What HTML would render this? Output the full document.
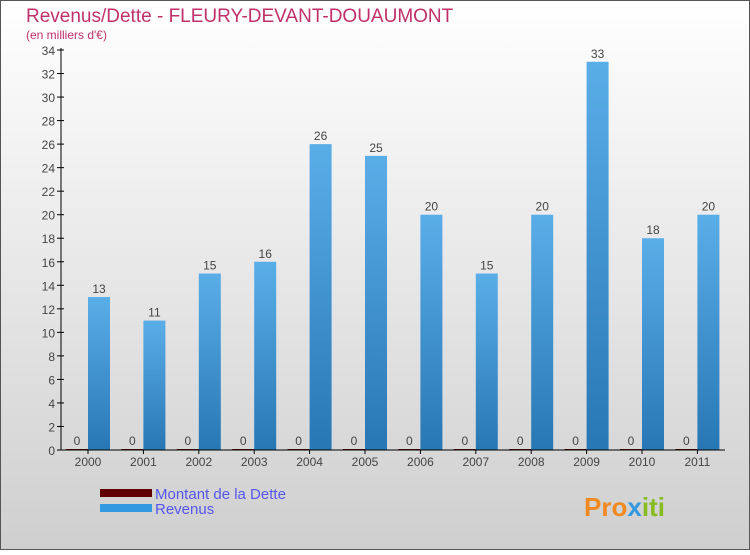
<!DOCTYPE html>
<html><head><meta charset="utf-8"><style>
body{margin:0}
#c{width:750px;height:550px;position:relative;font-family:"Liberation Sans",sans-serif}
</style></head><body>
<div id="c">
<svg id="s" width="750" height="550" xmlns="http://www.w3.org/2000/svg">
<defs>
<linearGradient id="bg" x1="0" y1="0" x2="0" y2="1"><stop offset="0" stop-color="#ffffff"/><stop offset="1" stop-color="#cfcfcf"/></linearGradient>
<linearGradient id="bar" x1="0" y1="0" x2="0" y2="1"><stop offset="0" stop-color="#5aaee8"/><stop offset="1" stop-color="#2777b5"/></linearGradient>
</defs>
<rect x="0.5" y="0.5" width="749" height="549" fill="url(#bg)" stroke="#555"/>
<text x="26" y="22" font-size="19" fill="#c0306a">Revenus/Dette - FLEURY-DEVANT-DOUAUMONT</text>
<text x="26" y="39" font-size="12" fill="#c0306a">(en milliers d'€)</text>
<g id="plot"></g>
<rect x="100" y="489" width="52" height="8" fill="#600000"/>
<text x="155" y="499" font-size="15" fill="#5555ee">Montant de la Dette</text>
<rect x="100" y="504" width="52" height="8" fill="#3399e0"/>
<text x="155" y="514" font-size="15" fill="#5555ee">Revenus</text>
<text x="584" y="516" font-size="26" font-weight="bold" fill="#f08a20">Pro<tspan fill="#3399e0">x</tspan><tspan fill="#88bb22">iti</tspan></text>
</svg>
</div>
<script>
const categories=["2000","2001","2002","2003","2004","2005","2006","2007","2008","2009","2010","2011"];
const dette=[0,0,0,0,0,0,0,0,0,0,0,0];
const revenus=[13,11,15,16,26,25,20,15,20,33,18,20];
const yTicks=[0,2,4,6,8,10,12,14,16,18,20,22,24,26,28,30,32,34];
const NS="http://www.w3.org/2000/svg";
const g=document.getElementById('plot');
const y0=450,yTop=50,yMax=34,x0=61,x1=725;
const y=v=>y0-(v/yMax)*(y0-yTop);
const xc=i=>88+i*55.4;
function mk(t,a){const e=document.createElementNS(NS,t);for(const k in a)e.setAttribute(k,a[k]);g.appendChild(e);return e;}
yTicks.forEach(v=>{
 const l=mk('line',{x1:x0-4,x2:x0+3,y1:y(v),y2:y(v),stroke:'#000'});
 
 
 const t=mk('text',{x:x0-6,y:y(v)+5,'text-anchor':'end','font-size':12,fill:'#444'});t.textContent=v;
 
 
});
categories.forEach((c,i)=>{
 const cx=xc(i);
 const d=mk('rect',{x:cx-22,y:y(dette[i])-1,width:22,height:Math.max(1,y0-y(dette[i])),fill:'#600000'});
 
 
 const dl=mk('text',{x:cx-11,y:y(dette[i])-5,'text-anchor':'middle','font-size':12,fill:'#444'});dl.textContent=dette[i];
 
 
 const r=mk('rect',{x:cx,y:y(revenus[i]),width:22,height:y0-y(revenus[i]),fill:'url(#bar)'});
 
 
 const rl=mk('text',{x:cx+11,y:y(revenus[i])-4,'text-anchor':'middle','font-size':12,fill:'#444'});rl.textContent=revenus[i];
 
 
 const tk=mk('line',{x1:cx,x2:cx,y1:y0,y2:y0+4,stroke:'#000'});
 
 
 const xl=mk('text',{x:cx,y:y0+16,'text-anchor':'middle','font-size':12,fill:'#444'});xl.textContent=c;
 
 
});
const ya=mk('line',{x1:x0,x2:x0,y1:yTop-2,y2:y0,stroke:'#000'});


const xa=mk('line',{x1:x0,x2:x1,y1:y0,y2:y0,stroke:'#000'});


</script>
</body></html>
